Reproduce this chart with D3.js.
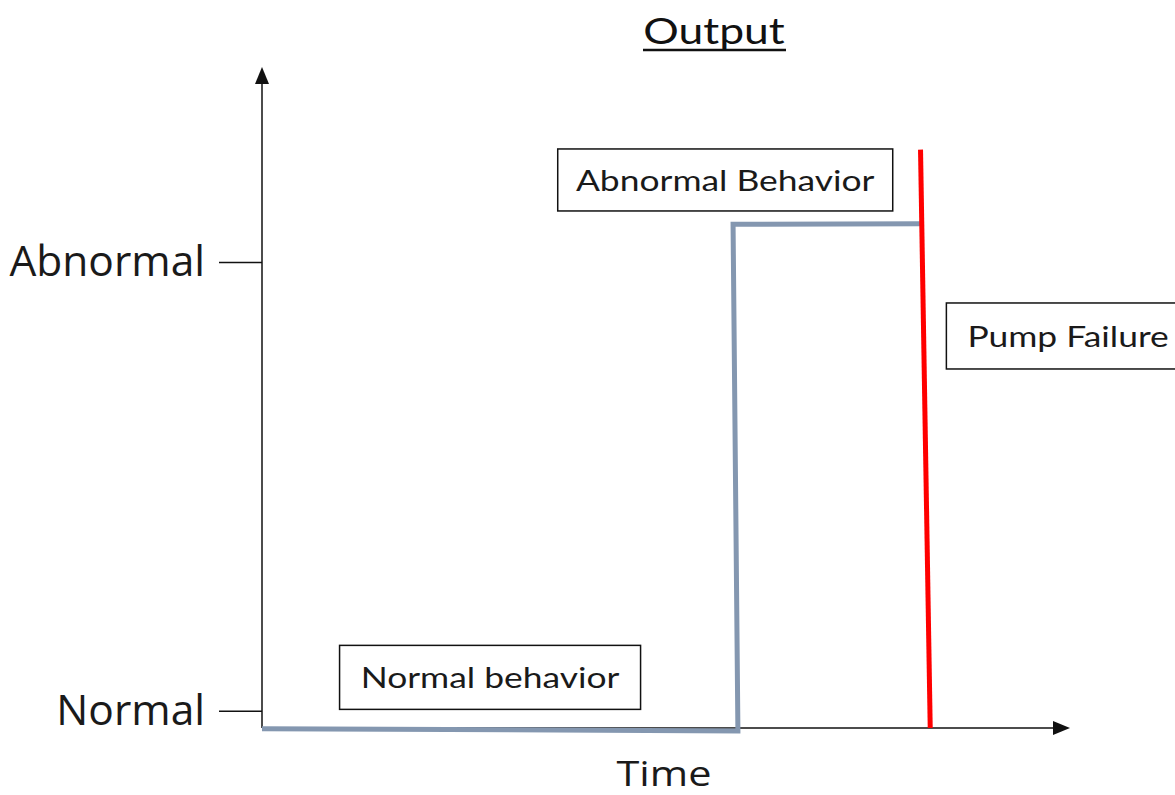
<!DOCTYPE html>
<html>
<head>
<meta charset="utf-8">
<script src="https://cdn.jsdelivr.net/npm/d3@7"></script>
<style>
  html, body { margin: 0; padding: 0; background: #fff; }
  svg { display: block; }
</style>
</head>
<body>
<svg id="chart" width="1175" height="795"></svg>
<script>
// ---- data ----
const yCategories = ["Normal", "Abnormal"];
const yCategoryValues = [2.6, 70.5];
const outputSeries = [
  {t: 0, v: -0.1},
  {t: 58.9, v: -0.45},
  {t: 58.3, v: 76.2},
  {t: 81.6, v: 76.3}
];
const failureSeries = [
  {t: 81.5, v: 87.5},
  {t: 82.7, v: 0}
];
const annotations = [
  {label: "Abnormal Behavior", t: 36.6, v: 87.6, w: 335, h: 62},
  {label: "Normal behavior", t: 9.6, v: 12.5, w: 301, h: 64},
  {label: "Pump Failure", t: 84.7, v: 64.3, w: 240, h: 66}
];
const titleText = "Output";
const xTitle = "Time";

// ---- layout ----
const svg = d3.select("#chart");
const x = d3.scaleLinear().domain([0, 100]).range([262, 1070]);
const y = d3.scaleLinear().domain([0, 100]).range([728, 67]);

const boxFont = "Lato, 'Open Sans', sans-serif";
const axisFont = "'Open Sans', sans-serif";

// title
const title = svg.append("text")
  .attr("transform", "translate(714,44) scale(1.2,1)")
  .attr("text-anchor", "middle")
  .attr("font-family", boxFont)
  .attr("font-size", 37)
  .attr("fill", "#111")
  .text(titleText);
svg.append("line")
  .attr("x1", 643).attr("x2", 786)
  .attr("y1", 50).attr("y2", 50)
  .attr("stroke", "#111").attr("stroke-width", 2.5);

// y axis (with category ticks)
const yAxis = d3.axisLeft(y)
  .tickValues(yCategoryValues)
  .tickFormat((d, i) => yCategories[i])
  .tickSize(43)
  .tickPadding(14);
const gy = svg.append("g").attr("transform", `translate(${x(0)},0)`).call(yAxis);
gy.select(".domain").remove();
gy.selectAll(".tick line").attr("stroke", "#111").attr("stroke-width", 1.5);
gy.selectAll(".tick text")
  .attr("font-family", axisFont)
  .attr("font-size", 42.5)
  .attr("fill", "#1a1a1a");

// axis lines with arrows
svg.append("line")
  .attr("x1", x(0)).attr("x2", x(0))
  .attr("y1", y(0)).attr("y2", y(100) + 14)
  .attr("stroke", "#111").attr("stroke-width", 1.5);
svg.append("path")
  .attr("d", `M${x(0)},${y(100)} L${x(0) - 7},${y(100) + 17} L${x(0) + 7},${y(100) + 17} Z`)
  .attr("fill", "#111");
svg.append("line")
  .attr("x1", x(0)).attr("x2", x(100) - 14)
  .attr("y1", y(0)).attr("y2", y(0))
  .attr("stroke", "#111").attr("stroke-width", 1.5);
svg.append("path")
  .attr("d", `M${x(100)},${y(0)} L${x(100) - 17},${y(0) - 7} L${x(100) - 17},${y(0) + 7} Z`)
  .attr("fill", "#111");

// x title
svg.append("text")
  .attr("transform", "translate(664,786) scale(1.22,1)")
  .attr("text-anchor", "middle")
  .attr("font-family", axisFont)
  .attr("font-size", 34)
  .attr("fill", "#1a1a1a")
  .text(xTitle);

// series lines
const line = d3.line().x(d => x(d.t)).y(d => y(d.v));
svg.append("path")
  .datum(outputSeries)
  .attr("d", line)
  .attr("fill", "none")
  .attr("stroke", "#8497b0")
  .attr("stroke-width", 5);
svg.append("path")
  .datum(failureSeries)
  .attr("d", line)
  .attr("fill", "none")
  .attr("stroke", "#ff0000")
  .attr("stroke-width", 5);

// annotation boxes
const ann = svg.selectAll("g.ann").data(annotations).join("g")
  .attr("class", "ann")
  .attr("transform", d => `translate(${x(d.t)},${y(d.v)})`);
ann.append("rect")
  .attr("width", d => d.w).attr("height", d => d.h)
  .attr("fill", "#fff").attr("stroke", "#111").attr("stroke-width", 1.5);
ann.append("text")
  .attr("transform", d => d.label === "Pump Failure"
    ? `translate(21,${d.h / 2 + 11}) scale(1.2,1)`
    : `translate(${d.w / 2},${d.h / 2 + 11}) scale(1.2,1)`)
  .attr("text-anchor", d => d.label === "Pump Failure" ? "start" : "middle")
  .attr("font-family", boxFont)
  .attr("font-size", 29.5)
  .attr("fill", "#1a1a1a")
  .text(d => d.label);
</script>
</body>
</html>
